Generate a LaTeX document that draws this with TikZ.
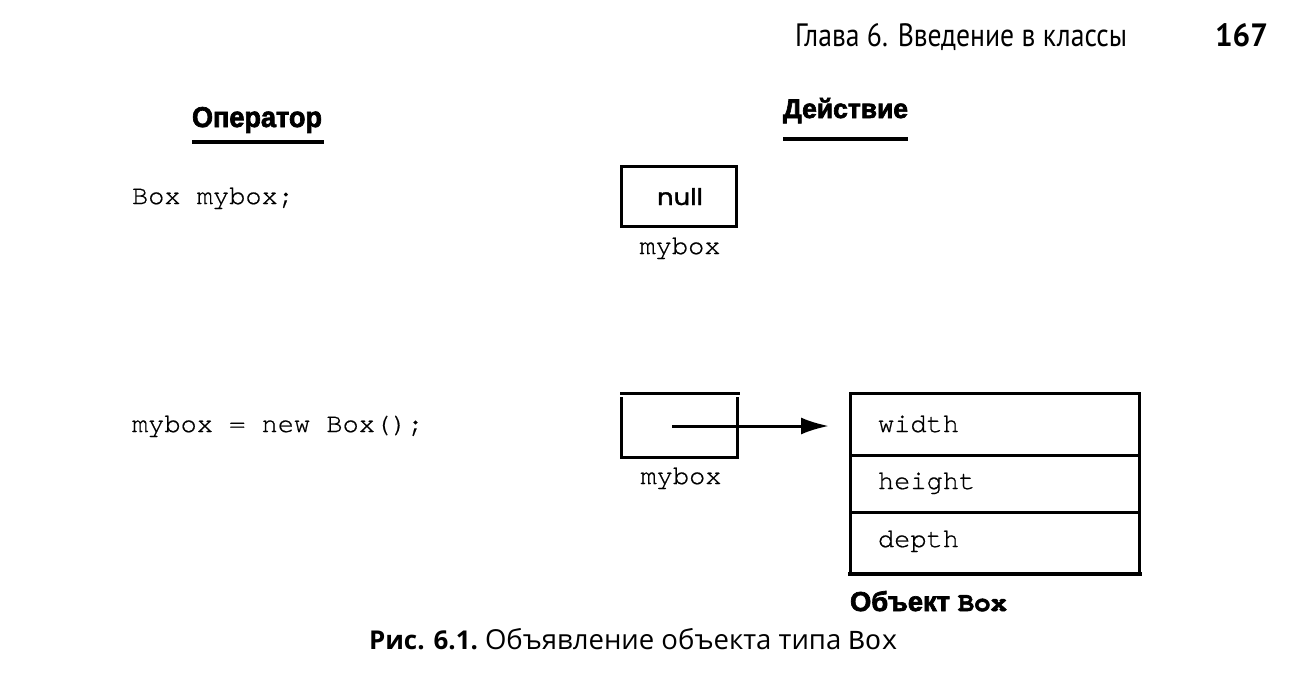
\documentclass[tikz,border=0pt]{standalone}
\usepackage{fontspec}
\usepackage{graphicx}
\setmainfont{Liberation Sans}
\setmonofont[FakeBold=0.6]{texgyrecursor-regular.otf}
\newfontfamily\hdrfont{PT Sans}
\newfontfamily\heavyfont[FakeBold=2.5]{Liberation Sans Bold}
\newfontfamily\heavymono[FakeBold=2]{texgyrecursor-bold.otf}
\newfontfamily\nulltxtfont[FakeBold=1.2]{Poppins}
\newfontfamily\capfont{Open Sans}
\newfontfamily\capmono{Liberation Mono}
\usetikzlibrary{arrows.meta}
\tikzset{
  txt/.style={inner sep=0pt, outer sep=0pt, anchor=base west},
  code/.style={txt, font=\fontsize{27}{27}\selectfont\ttfamily},
  lbl/.style={inner sep=0pt, anchor=base, font=\fontsize{27}{27}\selectfont\ttfamily},
  frame/.style={line width=3pt, line cap=rect},
  uline/.style={line width=3.5pt}
}
\begin{document}
\begin{tikzpicture}[x=1pt,y=-1pt]
\useasboundingbox[fill=white] (0,0) rectangle (1292,682);
% header
\node[txt] (hdr) at (795,47) {\resizebox{332pt}{23pt}{\hdrfont Глава 6. Введение в классы}};
\node[txt] (pg) at (1215,47) {\resizebox{53pt}{23pt}{\hdrfont\bfseries 167}};
% column headings
\node[txt] (op) at (192,127) {\resizebox{130pt}{20pt}{\heavyfont Оператор}};
\node[txt] (act) at (783,118) {\resizebox{125pt}{20pt}{\heavyfont Действие}};
\coordinate (opL) at (192,142); \coordinate (opR) at (324,142);
\coordinate (actL) at (783,139); \coordinate (actR) at (908,139);
\draw[uline] (opL) -- (opR);
\draw[uline] (actL) -- (actR);
% statements
\node[code] (s1) at (132,204) {Box mybox;};
\node[code] (s2) at (132,432) {mybox = new Box();};
% null reference
\node[draw, frame, minimum width=115pt, minimum height=60pt, inner sep=0pt, anchor=north west] (nullbox) at (620,165) {};
\node[txt] (nulltxt) at (657,205) {\resizebox{46pt}{17pt}{\nulltxtfont null}};
\node[lbl] (mb1) at (680,254) {mybox};
% reference box
\coordinate (rt1) at (621,393); \coordinate (rt2) at (738,393);
\draw[frame] (rt1) -- (rt2);
\coordinate (ra) at (621,398); \coordinate (rb) at (621,457);
\coordinate (rc) at (737,457); \coordinate (rd) at (737,398);
\draw[frame] (ra) -- (rb) -- (rc) -- (rd);
\node[lbl] (mb2) at (681,484) {mybox};
% object
\coordinate (oTL) at (850,393); \coordinate (oTR) at (1139,393);
\coordinate (oBL) at (850,574); \coordinate (oBR) at (1139,574);
\coordinate (s1L) at (850,455); \coordinate (s1R) at (1139,455);
\coordinate (s2L) at (850,512); \coordinate (s2R) at (1139,512);
\draw[frame] (oBL) -- (oTL) -- (oTR) -- (oBR);
\draw[frame] (s1L) -- (s1R);
\draw[frame] (s2L) -- (s2R);
\coordinate (bl1) at (848,574); \coordinate (bl2) at (1142,574);
\draw[line width=4pt] (bl1) -- (bl2);
\node[code] (fw) at (878,432) {width};
\node[code] (fh) at (878,489) {height};
\node[code] (fd) at (878,547) {depth};
% arrow
\coordinate (aS) at (672,426);
\coordinate (aE) at (829,426);
\draw[line width=3pt, -{Latex[length=28pt,width=17pt]}] (aS) -- (aE);
% object label
\node[txt] (objlbl) at (850,611) {\resizebox{157pt}{!}{\heavyfont Объект \heavymono Box}};
% caption
\node[txt] (cap1) at (369,649) {\resizebox{109pt}{!}{\capfont\bfseries Рис. 6.1.}};
\node[txt] (cap2) at (485,649) {\resizebox{413pt}{!}{\capfont Объявление объекта типа {\capmono Box}}};
\end{tikzpicture}
\end{document}
